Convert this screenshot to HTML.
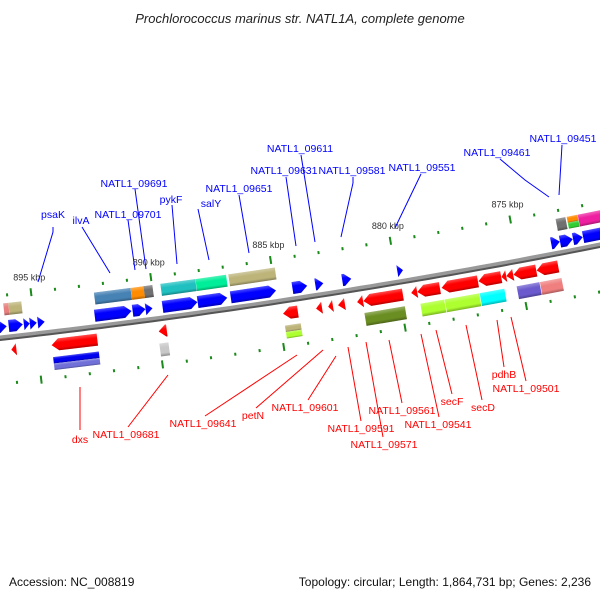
<!DOCTYPE html>
<html><head><meta charset="utf-8"><style>
html,body{margin:0;padding:0;background:#fff;}
svg{display:block;font-family:"Liberation Sans","DejaVu Sans",sans-serif;}
</style></head><body>
<svg id="map" width="600" height="600" viewBox="0 0 600 600" xmlns="http://www.w3.org/2000/svg">
<defs>
<linearGradient id="shade" x1="0" y1="0" x2="0" y2="1">
<stop offset="0" stop-color="#fff" stop-opacity="0.3"/>
<stop offset="0.35" stop-color="#fff" stop-opacity="0"/>
<stop offset="0.75" stop-color="#000" stop-opacity="0"/>
<stop offset="1" stop-color="#000" stop-opacity="0.3"/>
</linearGradient>
</defs>
<text x="300" y="23" text-anchor="middle" font-size="13" font-style="italic" fill="#222">Prochlorococcus marinus str. NATL1A, complete genome</text>
<g id="backbone"></g>
<g id="ticks"></g>
<g id="genes"></g>
<g id="labels"></g>
<text x="9" y="586" font-size="12" fill="#111">Accession: NC_008819</text>
<text x="591" y="586" font-size="12" fill="#111" text-anchor="end">Topology: circular; Length: 1,864,731 bp; Genes: 2,236</text>
</svg>
<script>
// gene data (genome coordinates in kbp)
const fwdStart=[896.49,896.08,895.45,895.20,894.87,892.51,890.93,890.39,889.69,888.23,886.86,884.29,883.34,882.22,879.93,873.54,873.17,872.63,872.22];
const fwdEnd  =[896.16,895.49,895.20,894.91,894.58,890.97,890.39,890.10,888.23,886.99,884.96,883.67,883.00,881.84,879.69,873.17,872.63,872.22,870.76];
const revStart=[896.08,894.42,889.98,884.83,883.46,882.96,882.55,881.76,881.51,879.52,879.27,878.27,876.74,875.78,875.58,875.29,874.33];
const revEnd  =[895.87,892.51,889.64,884.21,883.21,882.76,882.26,881.51,879.85,879.27,878.32,876.74,875.78,875.58,875.29,874.33,873.42];
const cogTopStart=[896.20,895.99,892.42,890.89,890.35,889.65,888.19,886.82,873.17,872.71,872.71,872.26];
const cogTopEnd  =[895.99,895.45,890.89,890.35,889.98,888.19,886.91,884.87,872.76,872.26,872.26,870.60];
const cogTopColor=["#e88080","#bdb47a","#4682b4","#ff8c00","#707070","#20c0c0","#00ee99","#bdb47a","#707070","#ff8c00","#32cd32","#ee1fa0"];
const cogTopLane =[0,0,0,0,0,0,0,0,0,1,2,0];
const cogBotStart=[894.42,894.42,890.02,884.83,884.83,881.55,879.23,878.23,876.78,875.25,874.29];
const cogBotEnd  =[892.51,892.51,889.64,884.17,884.17,879.85,878.23,876.78,875.74,874.29,873.38];
const cogBotColor=["#0000ee","#7070d8","#c8c8c8","#bdb47a","#adff2f","#6b8e23","#adff2f","#adff2f","#00ffff","#6a5acd","#f08080"];
const cogBotLane =[1,2,0,1,2,0,0,0,0,0,0];
const tickKbp=[897,896,895,894,893,892,891,890,889,888,887,886,885,884,883,882,881,880,879,878,877,876,875,874,873,872,871,870];
const majorLabels=["895 kbp","890 kbp","885 kbp","880 kbp","875 kbp"];
const majorKbp=[895,890,885,880,875];
const topLabels=["psaK","ilvA","NATL1_09701","NATL1_09691","pykF","salY","NATL1_09651","NATL1_09631","NATL1_09611","NATL1_09581","NATL1_09551","NATL1_09461","NATL1_09451"];
const botLabels=["dxs","NATL1_09681","NATL1_09641","petN","NATL1_09601","NATL1_09591","NATL1_09571","NATL1_09561","NATL1_09541","secF","secD","pdhB","NATL1_09501"];

// label placement (screen): text center x, center y, leader points
const topLab=[[53,214,[[53,227],[53,232],[38,282]]],[81,220,[[82,227],[110,273]]],[128,214,[[128,220],[135,270]]],[134,183,[[135,189],[146,269]]],[171,199,[[172,205],[177,264]]],[211,203,[[198,209],[209,260]]],[239,188,[[239,195],[249,253]]],[284,170,[[286,177],[296,246]]],[300,148,[[301,155],[315,242]]],[352,170,[[353,177],[353,183],[341,237]]],[422,167,[[421,174],[395,228]]],[497,152,[[500,159],[525,180],[549,197]]],[563,138,[[562,145],[559,195]]]];
const botLab=[[80,439,[[80,430],[80,387]]],[126,434,[[128,427],[168,375]]],[203,423,[[205,416],[297,355]]],[253,415,[[256,408],[323,350]]],[305,407,[[308,400],[336,356]]],[361,428,[[361,421],[348,347]]],[384,444,[[383,437],[366,342]]],[402,410,[[402,403],[389,340]]],[438,424,[[439,417],[421,334]]],[452,401,[[452,394],[436,330]]],[483,407,[[482,400],[466,325]]],[504,374,[[504,367],[497,320]]],[526,388,[[526,381],[511,317]]]];

const NS="http://www.w3.org/2000/svg";
function yb(x){return 338-0.1117*x-7.22e-5*x*x;}
function sl(x){return -0.1117-2*7.22e-5*x;}
function toU(k){return (896.49-k)/0.041494;}
function place(u,v){const t=sl(u),n=Math.hypot(1,t);return [u+(-t)*v/n, yb(u)+v/n];}
function ang(u){return Math.atan(sl(u))*180/Math.PI;}
function mk(tag,attrs,parent){const e=document.createElementNS(NS,tag);for(const k in attrs)e.setAttribute(k,attrs[k]);parent.appendChild(e);return e;}

// backbone
const bb=document.getElementById('backbone');
let d1="",d2="";
for(let x=-10;x<=610;x+=10){const p=place(x,0),q=place(x,2);d1+=(x===-10?"M":"L")+p[0].toFixed(1)+","+p[1].toFixed(1);d2+=(x===-10?"M":"L")+q[0].toFixed(1)+","+q[1].toFixed(1);}
const b1=mk('path',{d:d1,stroke:"#999",'stroke-width':5,fill:"none"},bb);


const b2=mk('path',{d:d2,stroke:"#555",'stroke-width':2,fill:"none"},bb);



// ticks
const tg=document.getElementById('ticks');
tickKbp.forEach(k=>{
  const u=toU(k),major=(k%5===0);
  [-42,46].forEach(v=>{
    const p=place(u,v);
    const r=mk('rect',{x:-1,y:major?-4:-1.5,width:2,height:major?8:3,fill:"#1a8a1a",transform:`translate(${p[0].toFixed(1)},${p[1].toFixed(1)}) rotate(${ang(u).toFixed(2)})`},tg);
    
    
  });
});
majorKbp.forEach((k,i)=>{
  const u=toU(k),p=place(u,-57);
  const t=mk('text',{x:p[0].toFixed(1),y:(p[1]+3).toFixed(1),'text-anchor':'middle','font-size':9,fill:"#333"},tg);
  t.textContent=majorLabels[i];
  
  
});

// genes
const gg=document.getElementById('genes');
function shape(L,v0,v1,dir,isArrow){
  const a=-L/2,b=L/2,m=(v0+v1)/2;
  if(!isArrow)return `${a},${v0} ${b},${v0} ${b},${v1} ${a},${v1}`;
  const h=Math.min(L,7);
  if(dir>0)return `${a},${v0} ${b-h},${v0} ${b},${m} ${b-h},${v1} ${a},${v1}`;
  return `${b},${v0} ${a+h},${v0} ${a},${m} ${a+h},${v1} ${b},${v1}`;
}
function drawGene(k0,k1,v0,v1,color,dir,isArrow,name){
  const u0=toU(k0),u1=toU(k1),uc=(u0+u1)/2,L=Math.abs(u1-u0);
  const p=place(uc,0);
  const g=mk('g',{transform:`translate(${p[0].toFixed(1)},${p[1].toFixed(1)}) rotate(${ang(uc).toFixed(2)})`},gg);
  
  
  const pts=shape(L,v0,v1,dir,isArrow);
  mk('polygon',{points:pts,fill:color},g);
  mk('polygon',{points:pts,fill:"url(#shade)"},g);
}
fwdStart.forEach((s,i)=>drawGene(s,fwdEnd[i],-17,-5,"#0000ff",1,true,'forward-gene'));
revStart.forEach((s,i)=>drawGene(s,revEnd[i],7,19,"#ff0000",-1,true,'reverse-gene'));
function laneV(base0,base1,lane){
  if(lane===0)return [base0,base1];
  const mid=(base0+base1)/2;
  return lane===1?[base0,mid]:[mid,base1];
}
cogTopStart.forEach((s,i)=>{const v=laneV(-34,-22,cogTopLane[i]);drawGene(s,cogTopEnd[i],v[0],v[1],cogTopColor[i],1,false,'forward-cog-block');});
cogBotStart.forEach((s,i)=>{const v=laneV(25,38,cogBotLane[i]);drawGene(s,cogBotEnd[i],v[0],v[1],cogBotColor[i],-1,false,'reverse-cog-block');});

// labels
const lg=document.getElementById('labels');
function drawLabels(names,specs,color,nm){
  names.forEach((n,i)=>{
    const s=specs[i];
    const pl=mk('polyline',{points:s[2].map(p=>p.join(',')).join(' '),stroke:color,'stroke-width':1,fill:"none"},lg);
    
    
    const t=mk('text',{x:s[0],y:s[1]+4,'text-anchor':'middle','font-size':10.5,fill:color},lg);
    t.textContent=n;
    
    
  });
}
drawLabels(topLabels,topLab,"#0000ff",'forward-gene-label');
drawLabels(botLabels,botLab,"#ff0000",'reverse-gene-label');
</script>
</body></html>
